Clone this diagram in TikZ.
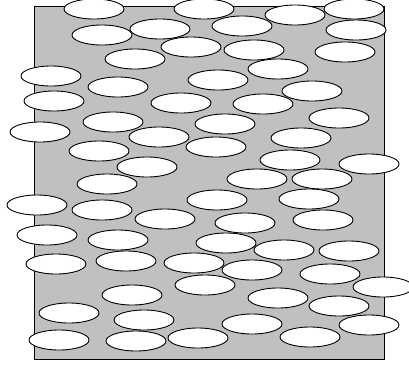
\documentclass[tikz,border=0pt]{standalone}
\usepackage{xcolor}
\usepackage{tikz}
\usetikzlibrary{shapes.geometric}
\definecolor{PlateGray}{RGB}{192,192,192}

\begin{document}
\begin{tikzpicture}[x=1pt, y=-1pt,
          plate/.style={draw=black, line width=1.2pt, fill=PlateGray},
          blob/.style={ellipse, draw=black, line width=0.9pt, fill=white,
                       minimum width=60pt, minimum height=20pt, inner sep=0pt}
        ]
        \useasboundingbox (0,0) rectangle (409,367);

        % grey plate
        \node[plate, rectangle, minimum width=350pt, minimum height=353pt,
              inner sep=0pt, anchor=north west] (plate) at (33.5,6) {};

        % white particles
        \foreach \px/\py [count=\i] in {
            94/9, 204/9, 295/15, 354/9,
            102/35, 160/29, 242/26, 356/30,
            191/47, 254/50, 345/52, 135/59,
            278/69, 51/76, 218/80, 118/87,
            312/91, 54/101, 181/103, 263/104,
            339/118, 113/122, 225/124, 40/132,
            159/137, 301/138, 216/147, 99/151,
            290/160, 369/164, 147/167, 257/179,
            322/179, 107/184, 37/205, 102/210,
            217/200, 309/199, 165/219, 245/223,
            323/220, 47/235, 118/240, 226/243,
            284/250, 349/251, 56/264, 126/261,
            194/263, 252/270, 330/274, 205/285,
            383/287, 132/295, 278/298, 69/313,
            144/320, 339/306, 252/324, 369/325,
            59/340, 136/341, 198/338, 310/337} {
          \node[blob] (p\i) at (\px,\py) {};
        }
      \end{tikzpicture}
\end{document}
